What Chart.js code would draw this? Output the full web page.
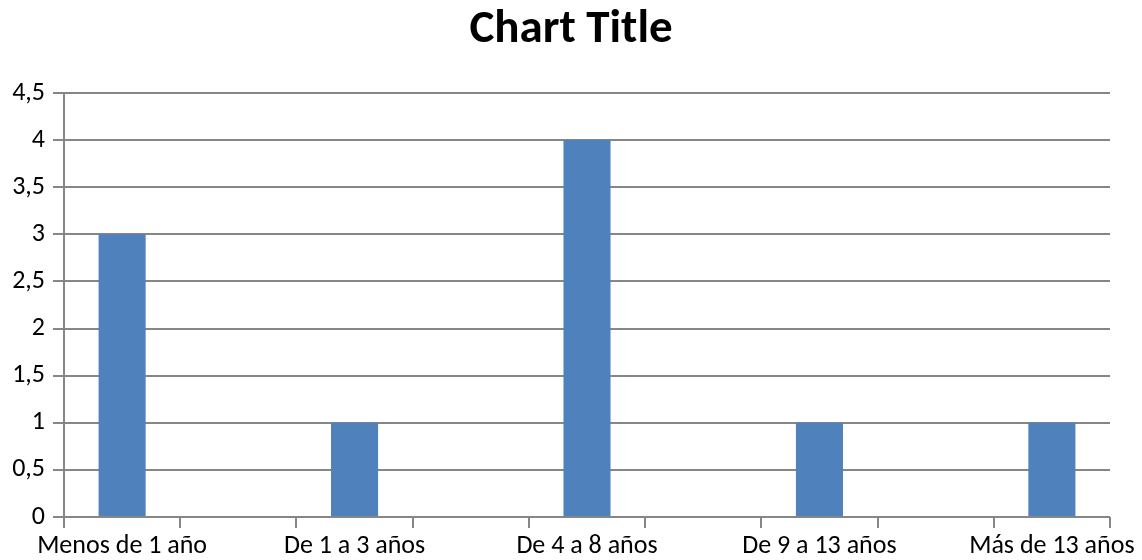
<!DOCTYPE html>
<html>
<head>
<meta charset="utf-8">
<script src="https://cdn.jsdelivr.net/npm/chart.js@4/dist/chart.umd.min.js"></script>
<style>
  html, body { margin: 0; padding: 0; background: #fff; }
  #wrap { width: 1142px; height: 560px; }
</style>
</head>
<body>
<div id="wrap"><canvas id="myChart" width="1142" height="560"></canvas></div>
<script>
// categories (blank slots sit between the named ranges)
const categories = ["Menos de 1 año", "", "De 1 a 3 años", "", "De 4 a 8 años", "", "De 9 a 13 años", "", "Más de 13 años"];
const counts = [3, null, 1, null, 4, null, 1, null, 1];
const yTicks = [0, 0.5, 1, 1.5, 2, 2.5, 3, 3.5, 4, 4.5];

const gridColor = '#868686';
const fontFamily = "Carlito, Lato, 'Open Sans', sans-serif";

const ctx = document.getElementById('myChart').getContext('2d');
new Chart(ctx, {
  type: 'bar',
  data: {
    labels: categories,
    datasets: [{
      label: 'Series1',
      data: counts,
      backgroundColor: '#4F81BD',
      barPercentage: 0.405,
      categoryPercentage: 1
    }]
  },
  options: {
    responsive: false,
    animation: false,
    layout: { padding: 0 },
    plugins: {
      legend: { display: false },
      tooltip: { enabled: false },
      title: {
        display: true,
        text: 'Chart Title',
        color: '#000',
        font: { family: fontFamily, size: 47, weight: 'bold', lineHeight: 1 },
        padding: { top: 7, bottom: 39 }
      }
    },
    scales: {
      x: {
        offset: true,
        grid: {
          offset: true,
          display: true,
          drawOnChartArea: false,
          drawTicks: true,
          tickLength: 11,
          color: gridColor,
          lineWidth: 2
        },
        border: { display: false },
        ticks: {
          color: '#000',
          autoSkip: false,
          maxRotation: 0,
          padding: 3,
          font: { family: fontFamily, size: 26 }
        },
        afterFit: s => { s.height = 43; }
      },
      y: {
        min: 0,
        max: 4.5,
        afterBuildTicks: s => { s.ticks = yTicks.map(v => ({ value: v })); },
        grid: {
          color: gridColor,
          lineWidth: 2,
          tickLength: 11
        },
        border: { display: true, color: gridColor, width: 2 },
        ticks: {
          color: '#000',
          padding: 8,
          font: { family: fontFamily, size: 26 },
          callback: v => String(v).replace('.', ',')
        },
        afterFit: s => { s.width = 64; }
      },
      // empty spacer on the right so the plot stops short of the edge
      spacer: {
        type: 'linear',
        position: 'right',
        grid: { display: false },
        border: { display: false },
        ticks: { display: false },
        afterFit: s => { s.width = 32; }
      }
    }
  }
});
</script>
</body>
</html>
